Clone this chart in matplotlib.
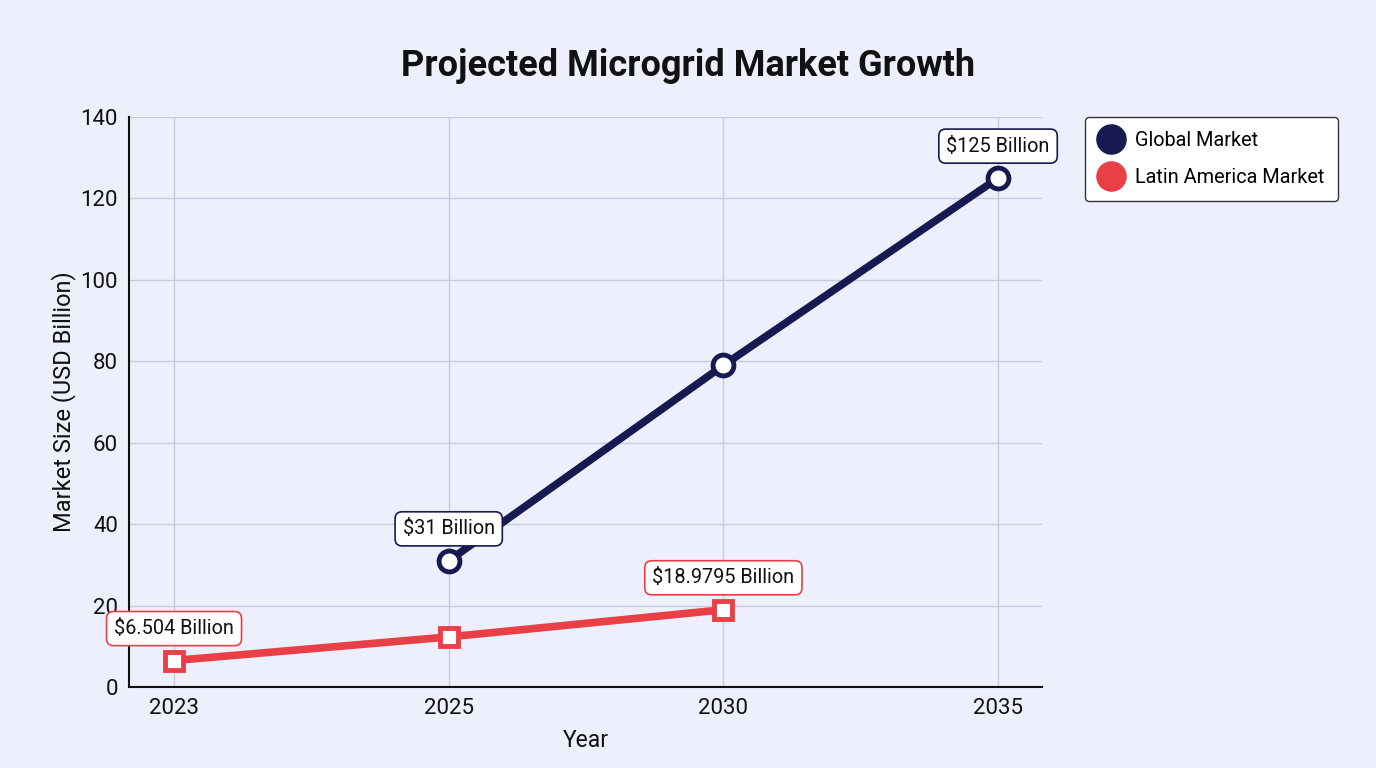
import matplotlib
matplotlib.use("Agg")
import matplotlib.pyplot as plt
from matplotlib.lines import Line2D

plt.rcParams['font.family'] = ['Roboto', 'DejaVu Sans']

years = ["2023", "2025", "2030", "2035"]
global_years = ["2025", "2030", "2035"]
global_values = [31, 79, 125]
latam_years = ["2023", "2025", "2030"]
latam_values = [6.504, 12.3, 18.9795]
global_labels = {"2025": "$31 Billion", "2035": "$125 Billion"}
latam_labels = {"2023": "$6.504 Billion", "2030": "$18.9795 Billion"}
y_ticks = [0, 20, 40, 60, 80, 100, 120, 140]

navy = "#161a50"
red = "#e84046"
bg = "#edf0fc"
grid_c = "#c9ccd8"

fig = plt.figure(figsize=(13.76, 7.68), dpi=100, facecolor=bg)
ax = fig.add_axes([129/1376, 1-687/768, (1042-129)/1376, (687-117)/768])
ax.set_facecolor(bg)

xi = {y: i for i, y in enumerate(years)}
gx = [xi[y] for y in global_years]
lx = [xi[y] for y in latam_years]

ax.plot(gx, global_values, color=navy, lw=5.5, marker='o', ms=15, mfc='white',
        mec=navy, mew=3.5, zorder=3, solid_capstyle='butt')
ax.plot(lx, latam_values, color=red, lw=5.5, marker='s', ms=13, mfc='white',
        mec=red, mew=3.5, zorder=3, solid_capstyle='butt')

def label(x, v, text, ec):
    ax.annotate(text, (x, v), xytext=(0, 23), textcoords='offset points',
                ha='center', va='center', fontsize=14.3, color='#111111', zorder=5,
                bbox=dict(boxstyle='round,pad=0.38,rounding_size=0.35', fc='white', ec=ec, lw=1.2))

for y, v in zip(global_years, global_values):
    if y in global_labels:
        label(xi[y], v, global_labels[y], navy)
for y, v in zip(latam_years, latam_values):
    if y in latam_labels:
        label(xi[y], v, latam_labels[y], red)

ax.set_xlim(-0.164, 3.16)
ax.set_ylim(0, 140)
ax.set_xticks(range(len(years)))
ax.set_xticklabels(years)
ax.set_yticks(y_ticks)
ax.tick_params(axis='both', labelsize=16, length=0, pad=8, colors='#111111')
ax.grid(True, color=grid_c, lw=1)
ax.set_axisbelow(True)
for s in ['top', 'right']:
    ax.spines[s].set_visible(False)
for s in ['left', 'bottom']:
    ax.spines[s].set_color('#111111')
    ax.spines[s].set_linewidth(1.5)

ax.set_xlabel("Year", fontsize=16.5, color='#111111', labelpad=7)
ax.set_ylabel("Market Size (USD Billion)", fontsize=17, color='#111111', labelpad=3)

fig.text(0.5, 1-66/768, "Projected Microgrid Market Growth", ha='center', va='center',
         fontsize=26, fontweight='bold', color='#111111')

handles = [Line2D([], [], marker='o', ls='', ms=21, color=navy, label='Global Market'),
           Line2D([], [], marker='o', ls='', ms=21, color=red, label='Latin America Market')]
leg = fig.legend(handles=handles, loc='upper left', bbox_to_anchor=(1085/1376, 1-117/768),
                 fontsize=14.3, frameon=True, fancybox=True, edgecolor='#333333',
                 facecolor='white', framealpha=1, handletextpad=0.6, borderpad=0.7,
                 labelspacing=0.9, handlelength=1.2, borderaxespad=0)
leg.get_frame().set_linewidth(1.0)

fig.savefig("out.png", dpi=100, facecolor=bg)
